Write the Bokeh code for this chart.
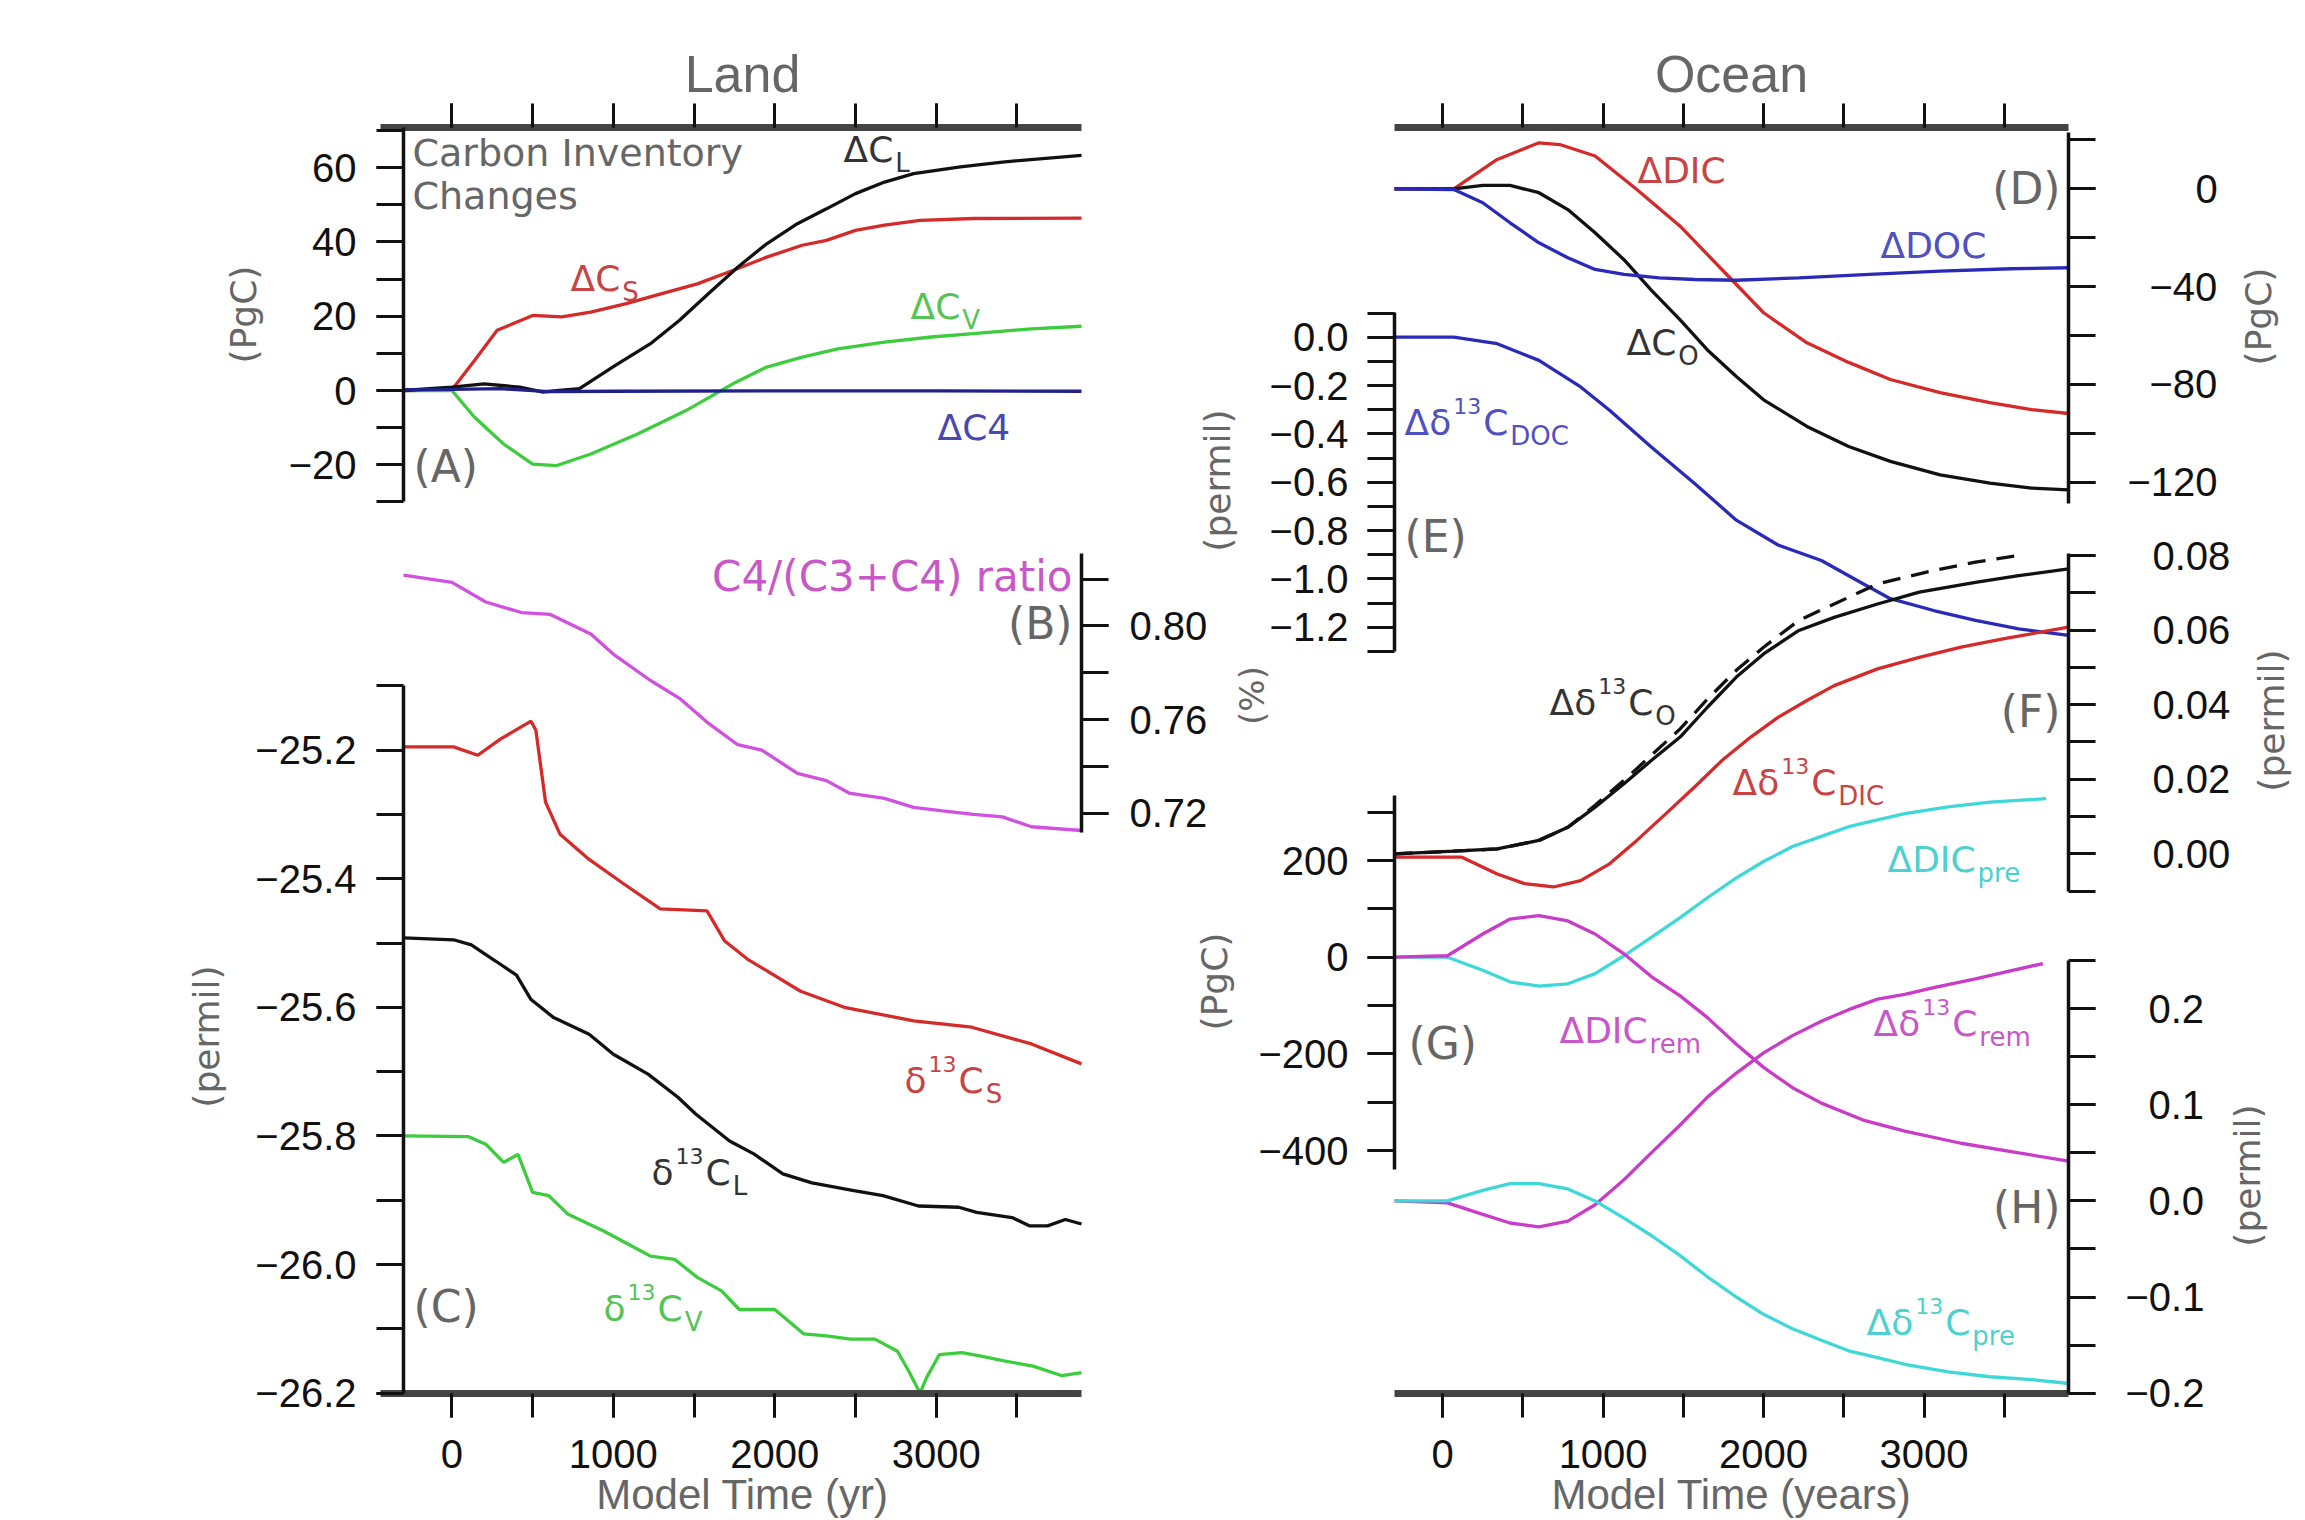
import math
from bokeh.plotting import figure
from bokeh.models import (Range1d, LinearAxis, SingleIntervalTicker, FixedTicker,
                          CustomJSTickFormatter, Label)
from bokeh.embed import file_html
from bokeh.resources import INLINE

# ======================= DATA =======================
# (A) Land carbon inventory changes (PgC)
yr_dCL = [-300, 0, 200, 420, 560, 790, 1010, 1230, 1410, 1590, 1770, 1950, 2140, 2320, 2500, 2680, 2860, 3150, 3410, 3900]
dCL = [0.0, 0.9, 1.8, 0.9, -0.4, 0.5, 6.7, 12.6, 18.9, 26.1, 33.2, 39.5, 44.9, 48.9, 53.0, 56.1, 58.4, 60.2, 61.5, 63.3]
yr_dCS = [-300, 0, 140, 280, 500, 680, 860, 1080, 1300, 1520, 1740, 1950, 2170, 2320, 2500, 2680, 2900, 3230, 3900]
dCS = [0.0, 0.2, 8.1, 16.2, 20.2, 19.8, 21.1, 23.4, 26.1, 28.7, 32.3, 35.9, 39.1, 40.4, 43.1, 44.5, 45.8, 46.3, 46.4]
yr_dCV = [-300, 0, 140, 320, 500, 650, 860, 1150, 1450, 1740, 1950, 2170, 2390, 2680, 2970, 3230, 3590, 3900]
dCV = [0.0, 0.0, -7.2, -14.4, -19.8, -20.2, -17.1, -11.7, -5.4, 1.8, 6.3, 9.0, 11.2, 13.0, 14.4, 15.3, 16.6, 17.3]
yr_dC4 = [-300, 0, 300, 600, 1000, 2000, 3000, 3900]
dC4 = [0.2, 0.3, 0.5, -0.3, -0.2, -0.1, -0.1, -0.2]

# (B) C4/(C3+C4) ratio
yr_ratio = [-300, 0, 210, 430, 610, 860, 1010, 1230, 1410, 1590, 1770, 1920, 2140, 2320, 2460, 2680, 2860, 3040, 3230, 3410, 3590, 3900]
c4_ratio = [0.8217, 0.8186, 0.8102, 0.8057, 0.8049, 0.7965, 0.7874, 0.7767, 0.7691, 0.7584, 0.7493, 0.7470, 0.7371,
            0.7340, 0.7287, 0.7264, 0.7226, 0.7211, 0.7196, 0.7185, 0.7143, 0.7127]

# (C) land d13C (permil)
yr_d13CS = [-300, 10, 160, 300, 490, 520, 580, 670, 850, 1070, 1290, 1580, 1690, 1830, 2160, 2430, 2860, 3220, 3590, 3900]
d13CS = [-25.195, -25.195, -25.208, -25.183, -25.155, -25.169, -25.281, -25.331, -25.370, -25.409, -25.447, -25.450,
         -25.497, -25.525, -25.575, -25.600, -25.621, -25.631, -25.657, -25.688]
yr_d13CL = [-300, 10, 120, 270, 400, 490, 630, 850, 1000, 1215, 1400, 1510, 1720, 1870, 2050, 2230, 2490, 2670, 2890,
            3140, 3250, 3470, 3580, 3690, 3800, 3900]
d13CL = [-25.492, -25.495, -25.503, -25.528, -25.550, -25.588, -25.616, -25.642, -25.673, -25.704, -25.740, -25.766,
         -25.808, -25.828, -25.859, -25.873, -25.885, -25.893, -25.909, -25.911, -25.919, -25.927, -25.940, -25.940,
         -25.930, -25.937]
yr_d13CV = [-300, 100, 210, 320, 410, 500, 600, 720, 940, 1090, 1230, 1380, 1520, 1670, 1780, 2000, 2180, 2320, 2470,
            2620, 2760, 2830, 2900, 2940, 3020, 3160, 3270, 3420, 3600, 3780, 3900]
d13CV = [-25.800, -25.801, -25.813, -25.841, -25.829, -25.888, -25.893, -25.922, -25.948, -25.968, -25.987, -25.992,
         -26.020, -26.041, -26.070, -26.070, -26.108, -26.111, -26.116, -26.116, -26.135, -26.166, -26.200, -26.176,
         -26.140, -26.137, -26.142, -26.150, -26.158, -26.173, -26.168]

# (D) ocean inventories (PgC)
yr_dDIC = [-300, 70, 340, 600, 730, 950, 1210, 1480, 1740, 2000, 2270, 2530, 2790, 3100, 3410, 3670, 3900]
dDIC = [0.0, 0.0, 12.0, 18.8, 18.1, 13.4, -0.3, -15.3, -33.0, -50.7, -63.0, -71.0, -78.0, -83.4, -87.5, -90.3, -91.9]
yr_dCO = [-300, 70, 250, 420, 600, 780, 950, 1130, 1300, 1480, 1650, 1830, 2000, 2270, 2530, 2790, 3100, 3410, 3670, 3900]
dCO = [0.0, 0.0, 1.4, 1.4, -1.6, -8.5, -18.0, -29.0, -41.4, -53.6, -65.9, -76.8, -86.3, -97.2, -105.4, -111.5, -117.0,
       -120.4, -122.4, -123.1]
yr_dDOC = [-300, 70, 250, 420, 600, 780, 950, 1130, 1350, 1570, 1830, 2220, 2660, 3100, 3540, 3900]
dDOC = [0.0, -0.3, -5.7, -13.9, -22.1, -28.2, -33.0, -35.0, -36.4, -37.1, -37.4, -36.4, -35.0, -33.7, -32.7, -32.3]

# (E) d13C of DOC (permil)
yr_dd13DOC = [-300, 70, 340, 600, 860, 1040, 1300, 1570, 1830, 2090, 2360, 2620, 2790, 3060, 3320, 3590, 3900]
dd13DOC = [0.0, 0.0, -0.027, -0.096, -0.206, -0.302, -0.454, -0.605, -0.757, -0.860, -0.924, -1.020, -1.082, -1.131,
           -1.172, -1.207, -1.234]

# (F) d13C of ocean carbon and DIC (permil)
yr_dd13O = [-300, 70, 340, 600, 780, 950, 1130, 1300, 1480, 1650, 1830, 2000, 2220, 2440, 2710, 2970, 3320, 3590, 3900]
dd13O = [0.0, 0.0007, 0.0013, 0.0036, 0.0071, 0.0125, 0.0188, 0.0250, 0.0313, 0.0393, 0.0474, 0.0536, 0.0599, 0.0634,
         0.0670, 0.0702, 0.0728, 0.0746, 0.0764]
yr_dd13O_dash = [-300, 70, 340, 600, 780, 950, 1130, 1300, 1480, 1650, 1830, 2000, 2220, 2440, 2710, 3060, 3320, 3590]
dd13O_dash = [0.0, 0.0007, 0.0013, 0.0036, 0.0071, 0.0130, 0.0197, 0.0264, 0.0335, 0.0415, 0.0492, 0.0554, 0.0626,
              0.0670, 0.0724, 0.0760, 0.0782, 0.0800]
yr_dd13DIC = [-300, 120, 340, 510, 690, 860, 1040, 1210, 1390, 1570, 1740, 1920, 2090, 2270, 2440, 2710, 2970, 3230, 3500, 3900]
dd13DIC = [-0.0009, -0.0009, -0.0054, -0.0080, -0.0089, -0.0072, -0.0027, 0.0036, 0.0107, 0.0179, 0.0250, 0.0313,
           0.0366, 0.0411, 0.0451, 0.0496, 0.0527, 0.0554, 0.0577, 0.0608]

# (G) preformed / remineralized DIC (PgC)
yr_dDICpre = [-300, 30, 250, 420, 600, 780, 950, 1130, 1300, 1480, 1650, 1830, 2000, 2180, 2360, 2530, 2710, 2880, 3150, 3410, 3760]
dDICpre = [0, 0, -27, -51, -60, -55, -34, 3, 41, 82, 123, 164, 198, 229, 250, 270, 284, 297, 311, 321, 328]
yr_dDICrem = [-300, 30, 250, 420, 600, 780, 950, 1130, 1300, 1480, 1650, 1830, 2000, 2180, 2360, 2620, 2880, 3230, 3590, 3900]
dDICrem = [0, 3, 48, 79, 86, 75, 48, 7, -40, -80, -125, -180, -228, -270, -302, -337, -360, -385, -405, -422]

# (H) d13C of preformed / remineralized DIC (permil)
yr_dd13rem = [-300, 30, 250, 420, 600, 780, 950, 1130, 1300, 1480, 1650, 1830, 2000, 2180, 2360, 2530, 2710, 2880, 3060, 3320, 3740]
dd13rem = [0.0, -0.002, -0.014, -0.023, -0.027, -0.021, -0.004, 0.022, 0.050, 0.079, 0.108, 0.133, 0.154, 0.172, 0.187,
           0.199, 0.210, 0.215, 0.222, 0.231, 0.247]
yr_dd13pre = [-300, 30, 250, 420, 600, 780, 950, 1130, 1300, 1480, 1650, 1830, 2000, 2180, 2360, 2530, 2710, 2880, 3150, 3410, 3670, 3900]
dd13pre = [0.0, 0.0, 0.011, 0.018, 0.018, 0.0125, 0.0, -0.018, -0.036, -0.057, -0.079, -0.100, -0.118, -0.133, -0.145,
           -0.156, -0.163, -0.170, -0.178, -0.183, -0.186, -0.190]

# ======================= LAYOUT (pixels of the 2305x1520 page) =======================
W, H = 2305, 1520
T0, T1 = -300, 3900
LAND_X0, LAND_X1 = 403, 1081
OCEAN_X0, OCEAN_X1 = 1394, 2068
TOP_BAR, BOT_BAR = 126.7, 1392.6

BLACK = "#111111"; RED = "#d42a2a"; GREEN = "#3dcc3d"; NAVY = "#20208a"; BLUE = "#2a2ab8"
MAGENTA = "#c83cc8"; PINK = "#d050e0"; CYAN = "#3ed8d8"
BLACK_T = "#333333"; RED_T = "#c84444"; GREEN_T = "#55c455"; BLUE_T = "#5050c0"; NAVY_T = "#4848b0"
MAG_T = "#c858c8"; CYAN_T = "#4dd0d0"; GRAY = "#666666"

TICK_FONT = "Liberation Sans"
TEXT_FONT = "DejaVu Sans"
TICK_SIZE = 40
TICK_OUT = 27
LW = 3.3


# the plotting frame covers the whole page; every range is set so that its
# values land on the right page pixels
def x_range_for(px0, px1):
    k = (T1 - T0) / (px1 - px0)
    return Range1d(start=T0 + (0 - px0) * k, end=T0 + (W - px0) * k)


def y_range_for(v0, p0, v1, p1):
    k = (v1 - v0) / (p1 - p0)
    return Range1d(start=v0 + (H - p0) * k, end=v0 + (0 - p0) * k)


p = figure(width=W, height=H, x_range=Range1d(0, W), y_range=Range1d(H, 0),
           x_axis_location=None, y_axis_location=None, toolbar_location=None, output_backend="svg",
           min_border_left=0, min_border_right=0, min_border_top=0, min_border_bottom=0,
           outline_line_color=None, background_fill_color="white", border_fill_color="white")
p.xgrid.grid_line_color = None
p.ygrid.grid_line_color = None

p.extra_x_ranges = {"land": x_range_for(LAND_X0, LAND_X1), "ocean": x_range_for(OCEAN_X0, OCEAN_X1)}
p.extra_y_ranges = {
    "A": y_range_for(0, 390.0, -20, 464.3),
    "B": y_range_for(0.80, 625.4, 0.72, 812.9),
    "C": y_range_for(-25.2, 749.6, -26.2, 1392.6),
    "D": y_range_for(0, 188.3, -120, 481.7),
    "E": y_range_for(0.0, 336.7, -1.2, 626.7),
    "F": y_range_for(0.0, 853.3, 0.08, 555.0),
    "G": y_range_for(0, 956.7, -400, 1150.0),
    "H": y_range_for(0.0, 1200.4, -0.2, 1392.6),
}

# ---------------- curves ----------------
def line(xs, ys, xr, yr, color, **kw):
    p.line(xs, ys, x_range_name=xr, y_range_name=yr, line_color=color, line_width=LW, **kw)

line(yr_dCS, dCS, "land", "A", RED)
line(yr_dCV, dCV, "land", "A", GREEN)
line(yr_dCL, dCL, "land", "A", BLACK)
line(yr_dC4, dC4, "land", "A", NAVY)
line(yr_ratio, c4_ratio, "land", "B", PINK)
line(yr_d13CS, d13CS, "land", "C", RED)
line(yr_d13CL, d13CL, "land", "C", BLACK)
line(yr_d13CV, d13CV, "land", "C", GREEN)

line(yr_dDIC, dDIC, "ocean", "D", RED)
line(yr_dCO, dCO, "ocean", "D", BLACK)
line(yr_dDOC, dDOC, "ocean", "D", BLUE)
line(yr_dd13DOC, dd13DOC, "ocean", "E", BLUE)
line(yr_dd13DIC, dd13DIC, "ocean", "F", RED)
line(yr_dd13O, dd13O, "ocean", "F", BLACK)
line(yr_dd13O_dash, dd13O_dash, "ocean", "F", BLACK, line_dash="18 11")
line(yr_dDICpre, dDICpre, "ocean", "G", CYAN)
line(yr_dDICrem, dDICrem, "ocean", "G", MAGENTA)
line(yr_dd13rem, dd13rem, "ocean", "H", MAGENTA)
line(yr_dd13pre, dd13pre, "ocean", "H", CYAN)

# ---------------- axes ----------------
def fmt_code(d):
    return "return tick.toFixed(%d).replace('-', '\\u2212');" % d


def fmt(v, d):
    s = f"{v:.{d}f}"
    if s.startswith("-") and float(s) == 0:
        s = s[1:]
    return s.replace("-", "\u2212")


ARIAL_W = {"0": .556, "1": .556, "2": .556, "3": .556, "4": .556, "5": .556, "6": .556, "7": .556, "8": .556,
           "9": .556, ".": .278, "\u2212": .584}


def tick_text_w(s):
    return sum(ARIAL_W.get(c, .556) for c in s) * TICK_SIZE


def style_y(ax):
    ax.axis_line_width = 3.5
    ax.axis_line_color = BLACK
    ax.major_tick_out = TICK_OUT
    ax.minor_tick_out = TICK_OUT
    ax.major_tick_in = 0
    ax.minor_tick_in = 0
    ax.major_tick_line_width = 3
    ax.minor_tick_line_width = 3
    ax.major_tick_line_color = BLACK
    ax.minor_tick_line_color = BLACK
    ax.major_label_text_font = TICK_FONT
    ax.major_label_text_font_size = f"{TICK_SIZE}px"
    ax.major_label_text_color = BLACK


def left_axis(rname, at, interval, bounds, dec, label_right):
    ax = LinearAxis(y_range_name=rname, fixed_location=at, bounds=bounds,
                    ticker=SingleIntervalTicker(interval=interval, num_minor_ticks=2),
                    formatter=CustomJSTickFormatter(code=fmt_code(dec)))
    style_y(ax)
    ax.major_label_standoff = int(round(at - TICK_OUT - label_right))
    p.add_layout(ax, "left")


def right_axis(rname, at, interval, bounds, dec, label_right):
    ax = LinearAxis(y_range_name=rname, fixed_location=at, bounds=bounds,
                    ticker=SingleIntervalTicker(interval=interval, num_minor_ticks=2))
    style_y(ax)
    ax.major_label_text_color = None
    p.add_layout(ax, "right")
    lo, hi = bounds
    ks = range(math.ceil(lo / interval - 1e-9), math.floor(hi / interval + 1e-9) + 1)
    groups = {}
    for k in ks:
        t = round(k * interval, 10)
        w = int(round(tick_text_w(fmt(t, dec))))
        groups.setdefault(w, []).append(t)
    for w, ts in groups.items():
        lab = LinearAxis(y_range_name=rname, fixed_location=at, bounds=bounds,
                         ticker=FixedTicker(ticks=ts, minor_ticks=[]),
                         formatter=CustomJSTickFormatter(code=fmt_code(dec)))
        style_y(lab)
        lab.axis_line_color = None
        lab.major_tick_line_color = None
        lab.minor_tick_line_color = None
        lab.major_tick_out = 0
        lab.minor_tick_out = 0
        lab.major_label_standoff = int(round(label_right - w - at))
        p.add_layout(lab, "right")


left_axis("A", LAND_X0, 20, (-30.001, 70.8), 0, 356)
right_axis("B", LAND_X1, 0.04, (0.712, 0.8309), 2, 1207)
left_axis("C", LAND_X0, 0.2, (-26.2005, -25.099), 1, 356)
right_axis("D", OCEAN_X1, 40, (-128.7, 23), 0, 2217)
left_axis("E", OCEAN_X0, 0.2, (-1.3005, 0.103), 1, 1348)
right_axis("F", OCEAN_X1, 0.02, (-0.0101, 0.0805), 2, 2230)
left_axis("G", OCEAN_X0, 200, (-440, 334), 0, 1348)
right_axis("H", OCEAN_X1, 0.1, (-0.2005, 0.2505), 1, 2204)


def x_axis(rname, side, loc, bounds, labels):
    ax = LinearAxis(x_range_name=rname, fixed_location=loc, bounds=bounds,
                    ticker=SingleIntervalTicker(interval=1000, num_minor_ticks=2))
    ax.axis_line_width = 7
    ax.axis_line_color = "#444444"
    ax.major_tick_out = 24
    ax.minor_tick_out = 24
    ax.major_tick_in = 0
    ax.minor_tick_in = 0
    ax.major_tick_line_width = 3
    ax.minor_tick_line_width = 3
    ax.major_tick_line_color = BLACK
    ax.minor_tick_line_color = BLACK
    ax.major_label_text_font = TICK_FONT
    ax.major_label_text_font_size = f"{TICK_SIZE}px"
    ax.major_label_text_color = BLACK if labels else None
    ax.major_label_standoff = 23
    p.add_layout(ax, side)


x_axis("land", "above", TOP_BAR, (-445, 3900), False)
x_axis("land", "below", BOT_BAR, (-445, 3900), True)
x_axis("ocean", "above", TOP_BAR, (-300, 3900), False)
x_axis("ocean", "below", BOT_BAR, (-300, 3900), True)

# ---------------- texts ----------------
def label(text, x, y, size, color, font=TEXT_FONT, align="left", angle=0.0):
    p.add_layout(Label(x=x, y=y, text=text, text_font=font, text_font_size=f"{size}px",
                       text_color=color, text_align=align, text_baseline="middle", angle=angle))


DV_W = {"Δ": .684, "δ": .612, "C": .698, "D": .770, "I": .295, "O": .787, "L": .557, "S": .635, "V": .684,
        "1": .636, "3": .636, "4": .636, "p": .635, "r": .411, "e": .615, "m": .974}
SIZES = {"m": 36, "p": 22, "b": 26}
DY = {"m": 0, "p": -17, "b": 13}


def rich(pieces, x, y, color):
    for txt, kind in pieces:
        s = SIZES[kind]
        label(txt, x, y + DY[kind], s, color)
        x += sum(DV_W.get(c, .6) for c in txt) * s + 2


label("Land", 742, 73, 52, GRAY, font=TICK_FONT, align="center")
label("Ocean", 1731, 73, 52, GRAY, font=TICK_FONT, align="center")
label("Model Time (yr)", 742, 1494, 42, GRAY, font=TICK_FONT, align="center")
label("Model Time (years)", 1731, 1494, 42, GRAY, font=TICK_FONT, align="center")

label("Carbon Inventory", 412, 152, 38, GRAY)
label("Changes", 412, 195, 38, GRAY)
label("(A)", 413, 466, 44, GRAY)
label("C4/(C3+C4) ratio", 1072, 576, 42, MAG_T, align="right")
label("(B)", 1072, 623, 44, GRAY, align="right")
label("(C)", 413, 1306, 44, GRAY)
label("(D)", 2060, 188, 44, GRAY, align="right")
label("(E)", 1404, 536, 44, GRAY)
label("(F)", 2060, 711, 44, GRAY, align="right")
label("(G)", 1408, 1043, 44, GRAY)
label("(H)", 2060, 1207, 44, GRAY, align="right")

V = math.pi / 2
label("(PgC)", 243, 314, 36, GRAY, align="center", angle=V)
label("(permil)", 206, 1036, 36, GRAY, align="center", angle=V)
label("(permil)", 1217, 480, 36, GRAY, align="center", angle=V)
label("(%)", 1251, 695, 34, GRAY, align="center", angle=V)
label("(PgC)", 1214, 981, 36, GRAY, align="center", angle=V)
label("(PgC)", 2258, 316, 36, GRAY, align="center", angle=V)
label("(permil)", 2271, 720, 36, GRAY, align="center", angle=V)
label("(permil)", 2247, 1175, 36, GRAY, align="center", angle=V)

rich([("ΔC", "m"), ("L", "b")], 843, 149, BLACK_T)
rich([("ΔC", "m"), ("S", "b")], 570, 278, RED_T)
rich([("ΔC", "m"), ("V", "b")], 910, 306, GREEN_T)
rich([("ΔC4", "m")], 937, 427, NAVY_T)
rich([("δ", "m"), ("13", "p"), ("C", "m"), ("S", "b")], 904, 1080, RED_T)
rich([("δ", "m"), ("13", "p"), ("C", "m"), ("L", "b")], 651, 1172, BLACK_T)
rich([("δ", "m"), ("13", "p"), ("C", "m"), ("V", "b")], 603, 1308, GREEN_T)

rich([("ΔDIC", "m")], 1637, 170, RED_T)
rich([("ΔDOC", "m")], 1880, 245, BLUE_T)
rich([("ΔC", "m"), ("O", "b")], 1626, 342, BLACK_T)
rich([("Δδ", "m"), ("13", "p"), ("C", "m"), ("DOC", "b")], 1404, 422, BLUE_T)
rich([("Δδ", "m"), ("13", "p"), ("C", "m"), ("O", "b")], 1549, 702, BLACK_T)
rich([("Δδ", "m"), ("13", "p"), ("C", "m"), ("DIC", "b")], 1732, 782, RED_T)
rich([("ΔDIC", "m"), ("pre", "b")], 1887, 859, CYAN_T)
rich([("ΔDIC", "m"), ("rem", "b")], 1559, 1030, MAG_T)
rich([("Δδ", "m"), ("13", "p"), ("C", "m"), ("rem", "b")], 1873, 1023, MAG_T)
rich([("Δδ", "m"), ("13", "p"), ("C", "m"), ("pre", "b")], 1866, 1322, CYAN_T)

open("out.html", "w", encoding="utf-8").write(file_html(p, INLINE))
